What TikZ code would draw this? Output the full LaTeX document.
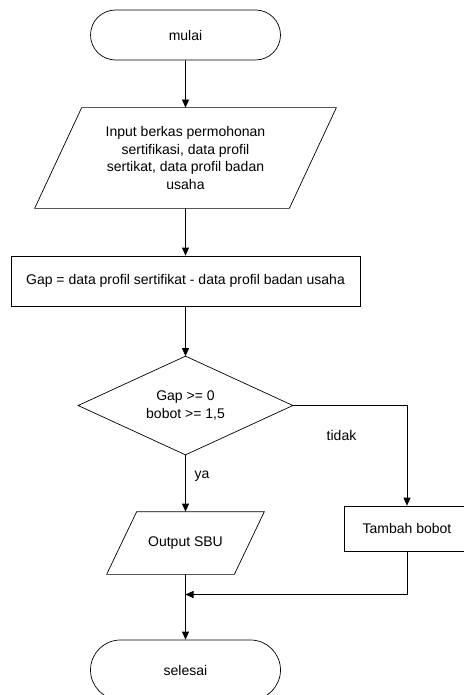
\documentclass[tikz,border=0pt]{standalone}
\usepackage{fontspec}
\setmainfont{Liberation Sans}
\usetikzlibrary{arrows.meta,shapes.misc,calc}
\begin{document}
\begin{tikzpicture}[x=1pt,y=-1pt,
  font=\fontsize{14}{17.5}\selectfont,
  line width=0.7pt,
  arr/.style={-{Triangle[length=8pt,width=7pt]}},
  term/.style={rounded rectangle, draw, minimum width=190pt, inner sep=0pt},
  box/.style={rectangle, draw, inner sep=0pt, align=center},
  ghost/.style={rectangle, inner sep=0pt, align=center},
]
\useasboundingbox (0,0) rectangle (463,695);
\node[term, minimum height=50pt] (start) at (185.5,35) {mulai};
\node[ghost, minimum width=301pt, minimum height=100pt] (in) at (185.5,158)
  {Input berkas permohonan\\sertifikasi, data profil\\sertikat, data profil badan\\usaha};
\draw (in.south west) -- ([xshift=47pt]in.north west) -- (in.north east) -- ([xshift=-47pt]in.south east) -- cycle;
\node[box, minimum width=349pt, minimum height=50pt] (gap) at (185.5,281)
  {Gap = data profil sertifikat - data profil badan usaha};
\node[ghost, minimum width=214pt, minimum height=98pt] (dec) at (185.5,405.5)
  {Gap >= 0\\bobot >= 1,5};
\draw (dec.north) -- (dec.east) -- (dec.south) -- (dec.west) -- cycle;
\node[ghost, minimum width=157pt, minimum height=62pt] (out) at (185.5,543) {Output SBU};
\draw (out.south west) -- ([xshift=30pt]out.north west) -- (out.north east) -- ([xshift=-30pt]out.south east) -- cycle;
\node[box, minimum width=126pt, minimum height=45pt] (tam) at (407,528.5) {Tambah bobot};
\node[term, minimum height=60pt] (end) at (185.5,670) {selesai};
\coordinate (join) at (185.5,594.5);
\node (ya) at (202,476) {ya};
\node (tidak) at (341.5,435) {tidak};
\draw[arr] (start) -- (in);
\draw[arr] (in) -- (gap);
\draw[arr] (gap) -- (dec);
\draw[arr] (dec) -- (out);
\draw[arr] (dec.east) -| (tam.north);
\draw (out) -- (join);
\draw[arr] (tam.south) |- (join);
\draw[arr] (join) -- (end);
\end{tikzpicture}
\end{document}
